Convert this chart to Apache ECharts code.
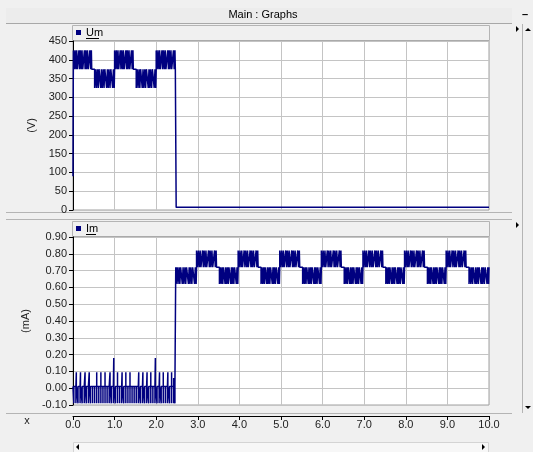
<!DOCTYPE html>
<html>
<head>
<meta charset="utf-8">
<script src="https://cdn.jsdelivr.net/npm/echarts@6/dist/echarts.min.js"></script>
<style>
  html, body { margin: 0; padding: 0; background: #f0f0f0; }
  #main { width: 533px; height: 452px; }
</style>
</head>
<body>
<div id="main"></div>
<script>
// time axis (s)
var timeMin = 0, timeMax = 10, timeStep = 1

// Um (V): start-up points, PWM blocks [start, end, flat level, pulse level], tail
var umStart = [[0, 90], [0.004, 280], [0.008, 375]]
var umBlocks = [
  [0.01, 0.45, 375, 425],
  [0.52, 1.0, 375, 325],
  [1.0, 1.45, 375, 425],
  [1.52, 2.0, 375, 325],
  [2.0, 2.46, 375, 425],
]
var umTail = [[2.48, 375], [2.48, 7], [10, 7]]

// switching edges inside a block, as a fraction of the block width
var pulseEdges = [0, 0.05, 0.09, 0.14, 0.18, 0.22, 0.3, 0.34, 0.38, 0.43, 0.47, 0.51, 0.6, 0.64, 0.68, 0.72, 0.77, 0.81, 0.9, 0.94, 0.98, 1.0]

// Im (mA): baseline with spikes, then PWM blocks
var imBase = 0.01
var imUpSpikes = [0.08, 0.18, 0.29, 0.39, 0.57, 0.67, 0.77, 0.89, 1.07, 1.18, 1.27, 1.37, 1.58, 1.68, 1.78, 1.87, 2.08, 2.17, 2.28, 2.37]
var imBigSpikes = [0.98, 1.98]
var imDownSpikes = [0.02, 0.07, 0.12, 0.17, 0.22, 0.27, 0.32, 0.37, 0.42, 0.47, 0.52, 0.57, 0.62, 0.67, 0.72, 0.77, 0.82, 0.87, 0.92, 0.97,
  1.02, 1.07, 1.12, 1.17, 1.22, 1.27, 1.32, 1.37, 1.42, 1.47, 1.52, 1.57, 1.62, 1.67, 1.72, 1.77, 1.82, 1.87, 1.92, 1.97,
  2.02, 2.07, 2.12, 2.17, 2.22, 2.27, 2.32, 2.37, 2.42, 2.45]
var imSmallSpike = [[2.42, 0.06]]
var imBlocks = [
  [2.48, 2.97, 0.72, 0.62],
  [2.97, 3.45, 0.72, 0.82],
  [3.52, 3.97, 0.72, 0.62],
  [3.97, 4.45, 0.72, 0.82],
  [4.52, 4.97, 0.72, 0.62],
  [4.97, 5.45, 0.72, 0.82],
  [5.52, 5.97, 0.72, 0.62],
  [5.97, 6.45, 0.72, 0.82],
  [6.52, 6.97, 0.72, 0.62],
  [6.97, 7.45, 0.72, 0.82],
  [7.52, 7.97, 0.72, 0.62],
  [7.97, 8.45, 0.72, 0.82],
  [8.52, 8.97, 0.72, 0.62],
  [8.97, 9.45, 0.72, 0.82],
  [9.52, 10.0, 0.72, 0.62],
]

function blockPoints(blocks) {
  var pts = []
  blocks.forEach(function (b) {
    var level = b[2]
    pts.push([b[0], level])
    pulseEdges.forEach(function (f) {
      var t = b[0] + (b[1] - b[0]) * f
      pts.push([t, level])
      level = level === b[2] ? b[3] : b[2]
      pts.push([t, level])
    })
  })
  return pts
}

var umData = umStart.concat(blockPoints(umBlocks), umTail)

var spikes = []
imUpSpikes.forEach(function (t) { spikes.push([t, 0.095]) })
imBigSpikes.forEach(function (t) { spikes.push([t, 0.18]) })
imDownSpikes.forEach(function (t) { spikes.push([t, -0.09]) })
imSmallSpike.forEach(function (s) { spikes.push(s) })
spikes.sort(function (a, b) { return a[0] - b[0] })

var imData = [[0, imBase]]
spikes.forEach(function (s) {
  imData.push([s[0], imBase], [s[0], s[1]], [s[0], imBase])
})
imData.push([2.47, imBase], [2.47, 0.72])
imData = imData.concat(blockPoints(imBlocks))

var font = 'Liberation Sans'
var gridColor = '#c4c4c4'
var lineColor = '#000080'

var chart = echarts.init(document.getElementById('main'))
var option = {
  animation: false,
  backgroundColor: '#f0f0f0',
  textStyle: { fontFamily: font },
  legend: [
    {
      data: ['Um'], left: 76, top: 27, padding: 0, icon: 'rect', itemWidth: 5, itemHeight: 5,
      textStyle: { fontSize: 11, color: '#000', fontFamily: font },
    },
    {
      data: ['Im'], left: 76, top: 223, padding: 0, icon: 'rect', itemWidth: 5, itemHeight: 5,
      textStyle: { fontSize: 11, color: '#000', fontFamily: font },
    },
  ],
  grid: [
    { left: 73, right: 44, top: 41, height: 169, show: true, backgroundColor: '#fff', borderColor: '#a0a0a0', borderWidth: 1 },
    { left: 73, right: 44, top: 237, height: 168, show: true, backgroundColor: '#fff', borderColor: '#a0a0a0', borderWidth: 1 },
  ],
  xAxis: [
    {
      gridIndex: 0, type: 'value', min: timeMin, max: timeMax, interval: timeStep,
      axisLine: { show: false }, axisTick: { show: false }, axisLabel: { show: false },
      splitLine: { lineStyle: { color: gridColor } },
    },
    {
      gridIndex: 1, type: 'value', min: timeMin, max: timeMax, interval: timeStep, offset: 11,
      axisLine: { show: true, onZero: false, lineStyle: { color: '#000' } },
      axisTick: { show: true, length: 4, lineStyle: { color: '#000' } },
      axisLabel: { fontSize: 11, color: '#222', fontFamily: font, margin: 3, formatter: function (v) { return v.toFixed(1) } },
      splitLine: { lineStyle: { color: gridColor } },
    },
  ],
  yAxis: [
    {
      gridIndex: 0, type: 'value', min: 0, max: 450, interval: 50,
      name: '(V)', nameLocation: 'middle', nameGap: 32, nameRotate: 90,
      nameTextStyle: { fontSize: 11, color: '#222', fontFamily: font },
      axisLine: { show: true, lineStyle: { color: '#000' } },
      axisTick: { show: true, length: 4, lineStyle: { color: '#000' } },
      axisLabel: { fontSize: 11, color: '#222', fontFamily: font, margin: 6 },
      splitLine: { lineStyle: { color: gridColor } },
    },
    {
      gridIndex: 1, type: 'value', min: -0.1, max: 0.9, interval: 0.1,
      name: '(mA)', nameLocation: 'middle', nameGap: 32, nameRotate: 90,
      nameTextStyle: { fontSize: 11, color: '#222', fontFamily: font },
      axisLine: { show: true, lineStyle: { color: '#000' } },
      axisTick: { show: true, length: 4, lineStyle: { color: '#000' } },
      axisLabel: { fontSize: 11, color: '#222', fontFamily: font, margin: 6, formatter: function (v) { return v.toFixed(2) } },
      splitLine: { lineStyle: { color: gridColor } },
    },
  ],
  series: [
    {
      name: 'Um', type: 'line', xAxisIndex: 0, yAxisIndex: 0, data: umData,
      showSymbol: false, color: lineColor, lineStyle: { color: lineColor, width: 1.5 }, z: 3,
    },
    {
      name: 'Im', type: 'line', xAxisIndex: 1, yAxisIndex: 1, data: imData,
      showSymbol: false, color: lineColor, lineStyle: { color: lineColor, width: 1.5 }, z: 3,
    },
  ],
  graphic: [
    // title bar
    { type: 'rect', z: -10, shape: { x: 6, y: 8, width: 506, height: 15 }, style: { fill: '#ececec' } },
    { type: 'line', z: -9, shape: { x1: 6, y1: 23.5, x2: 512, y2: 23.5 }, style: { stroke: '#a8a8a8', lineWidth: 1 } },
    { type: 'text', z: 10, x: 263, y: 15, style: { text: 'Main : Graphs', font: '11px ' + font, fill: '#000', align: 'center', verticalAlign: 'middle' } },
    { type: 'text', z: 10, x: 525, y: 15, style: { text: '–', font: 'bold 11px ' + font, fill: '#000', align: 'center', verticalAlign: 'middle' } },
    // legend strips
    { type: 'rect', z: -8, shape: { x: 72.5, y: 25.5, width: 417, height: 15 }, style: { fill: '#f0f0f0', stroke: '#b4b4b4' } },
    { type: 'rect', z: -8, shape: { x: 72.5, y: 221.5, width: 417, height: 15 }, style: { fill: '#f0f0f0', stroke: '#b4b4b4' } },
    { type: 'line', z: 10, shape: { x1: 86, y1: 38.5, x2: 99, y2: 38.5 }, style: { stroke: '#000', lineWidth: 1 } },
    { type: 'line', z: 10, shape: { x1: 86, y1: 234.5, x2: 96, y2: 234.5 }, style: { stroke: '#000', lineWidth: 1 } },
    // panel separators
    { type: 'line', z: -9, shape: { x1: 6, y1: 212.5, x2: 512, y2: 212.5 }, style: { stroke: '#b4b4b4', lineWidth: 1 } },
    { type: 'line', z: -9, shape: { x1: 6, y1: 219.5, x2: 512, y2: 219.5 }, style: { stroke: '#b4b4b4', lineWidth: 1 } },
    { type: 'line', z: -9, shape: { x1: 6, y1: 413.5, x2: 512, y2: 413.5 }, style: { stroke: '#b4b4b4', lineWidth: 1 } },
    // right scroll column
    { type: 'line', z: -9, shape: { x1: 522.5, y1: 24, x2: 522.5, y2: 413 }, style: { stroke: '#b4b4b4', lineWidth: 1 } },
    { type: 'polygon', z: 10, shape: { points: [[516, 26], [516, 32], [519, 29]] }, style: { fill: '#000' } },
    { type: 'polygon', z: 10, shape: { points: [[516, 222], [516, 228], [519, 225]] }, style: { fill: '#000' } },
    { type: 'polygon', z: 10, shape: { points: [[525, 31], [531, 31], [528, 28]] }, style: { fill: '#000' } },
    { type: 'polygon', z: 10, shape: { points: [[525, 406], [531, 406], [528, 409]] }, style: { fill: '#000' } },
    // x label and bottom scroller
    { type: 'text', z: 10, x: 27, y: 421, style: { text: 'x', font: '11px ' + font, fill: '#222', align: 'center', verticalAlign: 'middle' } },
    { type: 'rect', z: -8, shape: { x: 73.5, y: 442.5, width: 415, height: 10 }, style: { fill: '#f7f7f7', stroke: '#d4d4d4' } },
    { type: 'polygon', z: 10, shape: { points: [[79, 444], [79, 450], [76, 447]] }, style: { fill: '#000' } },
    { type: 'polygon', z: 10, shape: { points: [[482, 444], [482, 450], [485, 447]] }, style: { fill: '#000' } },
  ],
}
chart.setOption(option)
</script>
</body>
</html>
